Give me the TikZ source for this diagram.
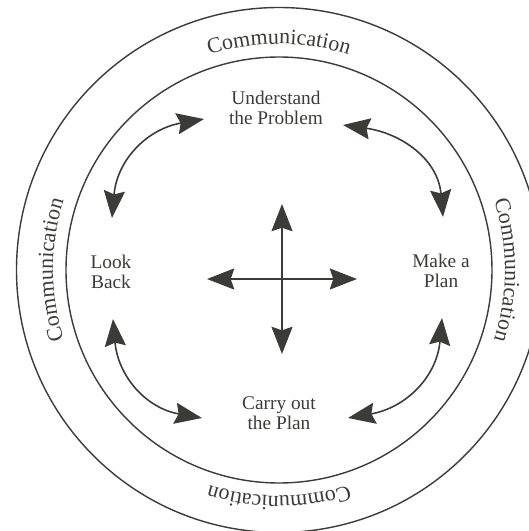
\documentclass[tikz,border=0pt]{standalone}
\usepackage{fontspec}
\setmainfont{Liberation Serif}
\usepackage{xcolor}
\usetikzlibrary{arrows.meta, decorations.text}
\definecolor{ink}{HTML}{3B3C37}

\begin{document}
\begin{tikzpicture}[
    every node/.style={font=\fontsize{11}{11.5}\selectfont, align=center, text=ink},
    ring/.style={draw=ink, line width=0.8pt},
    arr/.style={{Stealth[length=15.5pt, width=12pt, inset=2pt]}-{Stealth[length=15.5pt, width=12pt, inset=2pt]},
                draw=ink, line width=0.9pt}
  ]
    \useasboundingbox (-5.58,-5.22) rectangle (4.98,5.40);

    % rings
    \draw[ring] (0,0) circle[radius=5.25];
    \draw[ring] (0,0) circle[radius=4.26];
    \foreach \a in {90,0,-90,180}
      \path[decorate, decoration={text along path, text align=center,
            text={|\fontsize{12.5}{14}\selectfont\color{ink}|Communication}}]
        (\a+90:4.52) arc[start angle=\a+90, end angle=\a-90, radius=4.52];

    % steps
    \node (under) at (-0.06,3.24) {Understand\\the Problem};
    \node (plan)  at (3.24,-0.02) {Make a\\Plan};
    \node (carry) at (0,-2.86)    {Carry out\\the Plan};
    \node (look)  at (-3.36,-0.04) {Look\\Back};

    % curved arrows
    \coordinate (ul1) at (-1.50,3.02);  \coordinate (ul2) at (-3.34,1.04);
    \coordinate (ur1) at (1.28,2.90);   \coordinate (ur2) at (3.28,1.06);
    \coordinate (dr1) at (3.26,-0.96);  \coordinate (dr2) at (1.38,-2.96);
    \coordinate (dl1) at (-3.32,-0.98); \coordinate (dl2) at (-1.54,-2.96);
    \draw[arr] (ul2) to[out=85, in=190, looseness=1.1] (ul1);
    \draw[arr] (ur1) to[out=-8, in=95, looseness=1.1] (ur2);
    \draw[arr] (dr1) to[out=-95, in=10, looseness=1.1] (dr2);
    \draw[arr] (dl1) to[out=-85, in=170, looseness=1.1] (dl2);

    % cross
    \coordinate (cn) at (0.06,1.32);  \coordinate (cs) at (0.06,-1.68);
    \coordinate (cw) at (-1.44,-0.18); \coordinate (ce) at (1.56,-0.18);
    \draw[arr] (cn) -- (cs);
    \draw[arr] (cw) -- (ce);
  \end{tikzpicture}
\end{document}
